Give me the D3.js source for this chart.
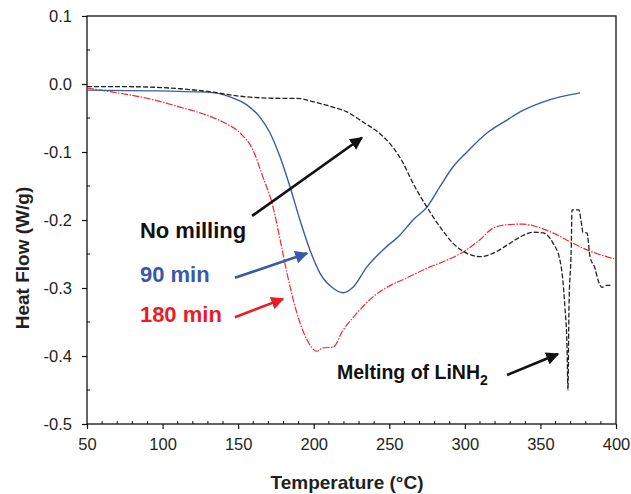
<!DOCTYPE html>
<html>
<head>
<meta charset="utf-8">
<script src="https://cdn.jsdelivr.net/npm/d3@7"></script>
<style>
  body { margin: 0; background: #fff; }
  svg { font-family: "Liberation Sans", Arial, sans-serif; }
</style>
</head>
<body>
<svg id="canvas" width="631" height="494"></svg>
<script>
// DSC traces: [temperature °C, heat flow W/g]
const noMilling = [
  [50, -0.004], [78.4, -0.004], [111.5, -0.007], [133.4, -0.012], [144.6, -0.016],
  [155.9, -0.019], [177.7, -0.021], [188.9, -0.021], [199.5, -0.026], [212.8, -0.034],
  [222, -0.041], [232.6, -0.056], [243.8, -0.073], [252.4, -0.093], [259.1, -0.116],
  [265.7, -0.146], [274.9, -0.181], [283.5, -0.210], [292.1, -0.234], [301.4, -0.249],
  [310, -0.254], [318.6, -0.249], [327.9, -0.237], [336.5, -0.225], [345.1, -0.218],
  [351.7, -0.219], [358.3, -0.234], [362.9, -0.259], [364.3, -0.278], [366.2, -0.328],
  [367.6, -0.387], [368.2, -0.450], [368.9, -0.328], [370.4, -0.240], [370.9, -0.185],
  [375.5, -0.185], [376.8, -0.200], [378.2, -0.218], [380.8, -0.219], [382.8, -0.254],
  [386.1, -0.271], [388.1, -0.288], [390.7, -0.299], [394, -0.296], [397.3, -0.296]
];

const min90 = [
  [50, -0.009], [129.4, -0.012], [144.6, -0.019], [155.9, -0.031], [164.5, -0.049],
  [171.1, -0.072], [177.7, -0.107], [184.3, -0.151], [190.9, -0.200], [197.5, -0.244],
  [204.1, -0.278], [212.7, -0.300], [219.4, -0.307], [226, -0.299], [235.2, -0.269],
  [245.8, -0.244], [257.1, -0.222], [265.7, -0.200], [274.9, -0.181], [283.5, -0.151],
  [292.1, -0.122], [301.4, -0.100], [314.6, -0.072], [327.9, -0.053], [336.5, -0.041],
  [349.7, -0.028], [362.9, -0.019], [376.2, -0.013]
];

const min180 = [
  [50, -0.006], [67.2, -0.012], [89.7, -0.021], [111.5, -0.034], [129.4, -0.046],
  [140, -0.056], [151.2, -0.072], [159.8, -0.097], [166.4, -0.137], [172.4, -0.175],
  [177.7, -0.228], [182.3, -0.278], [188.9, -0.337], [195.5, -0.376], [202.2, -0.393],
  [206.1, -0.388], [212.7, -0.387], [219.4, -0.362], [228.6, -0.337], [239.2, -0.313],
  [248.5, -0.299], [261.7, -0.285], [276.9, -0.269], [288.2, -0.259], [298.8, -0.247],
  [310, -0.229], [318.6, -0.212], [327.9, -0.207], [338.5, -0.206], [347.7, -0.210],
  [358.3, -0.219], [369.5, -0.232], [380.8, -0.244], [388.1, -0.250], [398.7, -0.257]
];

const xTicks = [50, 100, 150, 200, 250, 300, 350, 400];
const yTicks = [0.1, 0.0, -0.1, -0.2, -0.3, -0.4, -0.5];

// labels and arrows (data units)
const labels = [
  { text: 'No milling', x: 85, y: -0.226, color: '#111' },
  { text: '90 min', x: 85, y: -0.291, color: '#3a58a8' },
  { text: '180 min', x: 85, y: -0.350, color: '#ec1c24' }
];
const arrows = [
  { from: [159.2, -0.194], to: [231.9, -0.079], color: '#111' },
  { from: [147.9, -0.285], to: [195.6, -0.249], color: '#3a58a8' },
  { from: [147.9, -0.343], to: [179.7, -0.316], color: '#ec1c24' },
  { from: [327.9, -0.428], to: [361.6, -0.397], color: '#111' }
];

const svg = d3.select('#canvas');
const mLeft = 87, mRight = 616, mTop = 16, mBottom = 424;

const x = d3.scaleLinear().domain([50, 400]).range([mLeft, mRight]);
const y = d3.scaleLinear().domain([-0.5, 0.1]).range([mBottom, mTop]);

// frame
svg.append('rect')
  .attr('x', mLeft).attr('y', mTop)
  .attr('width', mRight - mLeft).attr('height', mBottom - mTop)
  .attr('fill', 'none').attr('stroke', '#111').attr('stroke-width', 1.3);

// minor ticks (inside)
const g = svg.append('g');
d3.range(50, 400, 10).filter(v => v % 50 !== 0).forEach(v => {
  g.append('line')
    .attr('x1', x(v)).attr('x2', x(v))
    .attr('y1', mBottom).attr('y2', mBottom - 3)
    .attr('stroke', '#111');
});
d3.range(-0.45, 0.1, 0.1).forEach(v => {
  g.append('line')
    .attr('x1', mLeft).attr('x2', mLeft + 3)
    .attr('y1', y(v)).attr('y2', y(v))
    .attr('stroke', '#111');
});

// major ticks + labels via axes
const xAxis = svg.append('g')
  .attr('transform', `translate(0,${mBottom})`)
  .call(d3.axisBottom(x).tickValues(xTicks).tickSize(5).tickPadding(9).tickFormat(d => d));
const yAxis = svg.append('g')
  .attr('transform', `translate(${mLeft},0)`)
  .call(d3.axisLeft(y).tickValues(yTicks).tickSize(5).tickPadding(10).tickFormat(d => d.toFixed(1)));

[xAxis, yAxis].forEach(a => {
  a.select('.domain').remove();
  a.selectAll('line').attr('stroke', '#111').attr('stroke-width', 1.2);
  a.selectAll('text')
    .attr('fill', '#231f20')
    .style('font-size', '16.5px')
    .style('font-family', '"Liberation Sans", Arial, sans-serif');
});

// axis titles
svg.append('text')
  .attr('x', 347).attr('y', 489)
  .attr('text-anchor', 'middle')
  .style('font-size', '19px').style('font-weight', 'bold')
  .attr('fill', '#231f20')
  .text('Temperature (°C)');

svg.append('text')
  .attr('transform', 'translate(29,258) rotate(-90)')
  .attr('text-anchor', 'middle')
  .style('font-size', '19px').style('font-weight', 'bold')
  .attr('fill', '#231f20')
  .text('Heat Flow (W/g)');

// curves
const line = d3.line().curve(d3.curveMonotoneX).x(d => x(d[0])).y(d => y(d[1]));

svg.append('path').datum(min180)
  .attr('d', line).attr('fill', 'none')
  .attr('stroke', '#ee2b2b').attr('stroke-width', 1.2)
  .attr('stroke-dasharray', '7,1.5,1.5,1.5');

svg.append('path').datum(min90)
  .attr('d', line).attr('fill', 'none')
  .attr('stroke', '#3d5aa9').attr('stroke-width', 1.4);

svg.append('path').datum(noMilling)
  .attr('d', line).attr('fill', 'none')
  .attr('stroke', '#222').attr('stroke-width', 1.3)
  .attr('stroke-dasharray', '5,2');

// arrows
const defs = svg.append('defs');
arrows.forEach((a, i) => {
  defs.append('marker')
    .attr('id', 'head' + i)
    .attr('viewBox', '0 0 10 10')
    .attr('refX', 9).attr('refY', 5)
    .attr('markerWidth', 5).attr('markerHeight', 5)
    .attr('markerUnits', 'strokeWidth')
    .attr('orient', 'auto')
    .append('path')
    .attr('d', 'M0,0 L10,5 L0,10 z')
    .attr('fill', a.color);

  svg.append('line')
    .attr('x1', x(a.from[0])).attr('y1', y(a.from[1]))
    .attr('x2', x(a.to[0])).attr('y2', y(a.to[1]))
    .attr('stroke', a.color).attr('stroke-width', 2.6)
    .attr('marker-end', `url(#head${i})`);
});

// labels
labels.forEach(l => {
  svg.append('text')
    .attr('x', x(l.x)).attr('y', y(l.y))
    .style('font-size', '22px').style('font-weight', 'bold')
    .attr('fill', l.color)
    .text(l.text);
});

const melt = svg.append('text')
  .attr('x', x(215.4)).attr('y', y(-0.434))
  .style('font-size', '19.5px').style('font-weight', 'bold')
  .attr('fill', '#111');
melt.append('tspan').text('Melting of LiNH');
melt.append('tspan').attr('dy', 6).style('font-size', '14px').text('2');
</script>
</body>
</html>
